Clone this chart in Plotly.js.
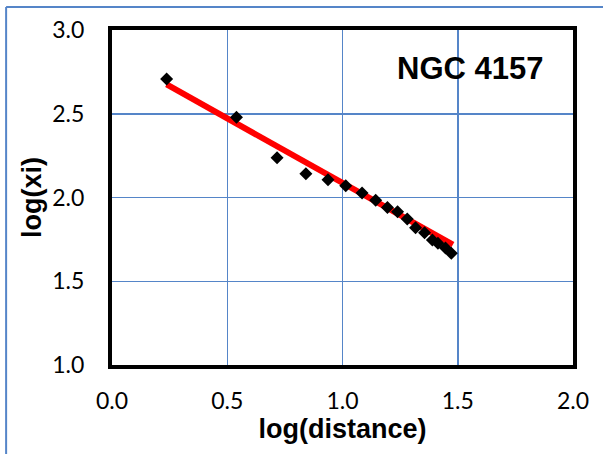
<!DOCTYPE html>
<html>
<head>
<meta charset="utf-8">
<script src="https://cdn.plot.ly/plotly-3.0.1.min.js"></script>
<style>html,body{margin:0;padding:0;background:#fff;}#chart{width:603px;height:454px;}</style>
</head>
<body>
<div id="chart"></div>
<script>
const logDistance = [0.237, 0.540, 0.716, 0.841, 0.937, 1.014, 1.085, 1.144, 1.195, 1.239, 1.281, 1.317, 1.356, 1.390, 1.414, 1.447, 1.472];
const logXi       = [2.707, 2.479, 2.238, 2.142, 2.106, 2.070, 2.027, 1.983, 1.941, 1.915, 1.872, 1.820, 1.790, 1.746, 1.727, 1.699, 1.667];
// Linear trend line end points
const fitX = [0.237, 1.479];
const fitY = [2.675, 1.718];
// Axis ticks
const xTicks = [0.0, 0.5, 1.0, 1.5, 2.0];
const xTickLabels = ["0.0", "0.5", "1.0", "1.5", "2.0"];
const yTicks = [1.0, 1.5, 2.0, 2.5, 3.0];
const yTickLabels = ["1.0", "1.5", "2.0", "2.5", "3.0"];
const galaxyLabel = "NGC 4157";

const W = 603, H = 454;
const M = {l: 112, r: 29.5, t: 30, b: 89};
const pw = W - M.l - M.r, ph = H - M.t - M.b;
const px = v => (v - M.l) / pw;           // pixel -> paper x
const py = v => 1 - (v - M.t) / ph;       // pixel -> paper y

const gridColor = '#5585c8';
const tickFont = {family: 'Lato, Open Sans, sans-serif', size: 23, color: '#000'};
const titleFont = {family: 'Liberation Sans, Arial, sans-serif', size: 27, color: '#000'};

const traces = [
  {
    x: fitX, y: fitY, mode: 'lines', type: 'scatter',
    line: {color: '#ff0000', width: 6}, hoverinfo: 'skip', showlegend: false
  },
  {
    x: logDistance, y: logXi, mode: 'markers', type: 'scatter',
    marker: {symbol: 'diamond', size: 10, color: '#000'}, showlegend: false
  }
];

const layout = {
  width: W, height: H,
  margin: M,
  paper_bgcolor: '#fff', plot_bgcolor: '#fff',
  showlegend: false,
  xaxis: {
    range: [0, 2], tickvals: xTicks, ticktext: xTickLabels,
    showgrid: true, gridcolor: gridColor, gridwidth: 1.5,
    zeroline: false, showline: true, mirror: true, linecolor: '#000', linewidth: 4,
    ticks: '', ticklabelstandoff: 12, tickfont: tickFont,
    title: {text: '<b>log(distance)</b>', font: titleFont, standoff: 7}
  },
  yaxis: {
    range: [1, 3], tickvals: yTicks, ticktext: yTickLabels,
    showgrid: true, gridcolor: gridColor, gridwidth: 1.5,
    zeroline: false, showline: true, mirror: true, linecolor: '#000', linewidth: 4,
    ticks: '', ticklabelstandoff: 19, tickfont: tickFont,
    title: {text: '<b>log(xi)</b>', font: titleFont, standoff: 4}
  },
  annotations: [
    {
      x: 1.551, y: 2.773, xref: 'x', yref: 'y', text: '<b>' + galaxyLabel + '</b>',
      showarrow: false, xanchor: 'center', yanchor: 'middle',
      font: {family: 'Liberation Sans, Arial, sans-serif', size: 31, color: '#000'}
    }
  ],
  shapes: [
    {type: 'line', xref: 'paper', yref: 'paper', x0: px(6), x1: px(6), y0: py(7), y1: py(H + 2),
     line: {color: gridColor, width: 2}},
    {type: 'line', xref: 'paper', yref: 'paper', x0: px(6), x1: px(W + 2), y0: py(7), y1: py(7),
     line: {color: gridColor, width: 2}}
  ]
};

Plotly.newPlot('chart', traces, layout, {displayModeBar: false, staticPlot: true});
</script>
</body>
</html>
